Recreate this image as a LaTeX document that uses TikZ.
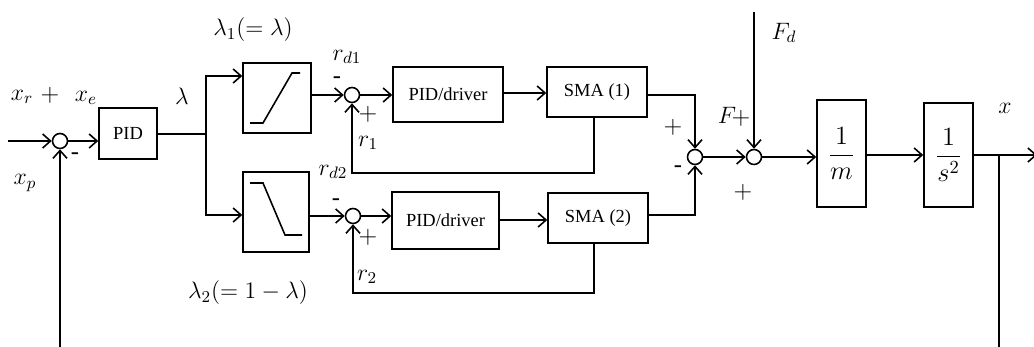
\RequirePackage{fix-cm}
\documentclass[tikz,border=0pt]{standalone}
\usepackage{fontspec}
\setmainfont{Liberation Serif}
\usetikzlibrary{arrows.meta}
\begin{document}
\begin{tikzpicture}[x=0.02cm,y=-0.02cm,
  line width=0.9pt,
  arr/.style={-{Straight Barb[length=4.5pt,width=8pt,line width=0.9pt]}},
  blk/.style={draw,rectangle,inner sep=0pt,font=\fontsize{10.5}{12}\selectfont},
  sumc/.style={draw,circle,minimum size=0.30cm,inner sep=0pt},
  lab/.style={inner sep=0pt,font=\fontsize{13.5}{15}\selectfont},
  sgn/.style={inner sep=0pt,font=\fontsize{14}{16}\selectfont}]
\useasboundingbox (0,0) rectangle (1034,347);
% nodes
\node[sumc] (s1) at (60,141) {};
\node[blk,minimum width=1.16cm,minimum height=1.02cm] (pid) at (128,133.5) {PID};
\coordinate (br) at (206,134);
\node[blk,minimum width=1.36cm,minimum height=1.40cm] (sat1) at (277,98) {};
\node[blk,minimum width=1.32cm,minimum height=1.60cm] (sat2) at (276,212) {};
\node[sumc] (c1) at (352,95) {};
\node[sumc] (c2) at (353,216) {};
\node[blk,minimum width=2.20cm,minimum height=1.10cm] (drv1) at (448,94.5) {PID/driver};
\node[blk,minimum width=2.14cm,minimum height=1.14cm] (drv2) at (445.5,220.5) {PID/driver};
\node[blk,minimum width=2.00cm,minimum height=1.00cm] (sma1) at (597,92) {SMA (1)};
\node[blk,minimum width=2.00cm,minimum height=1.00cm] (sma2) at (598,218) {SMA (2)};
\node[sumc] (c3) at (695,157) {};
\node[sumc] (c4) at (754,157) {};
\node[blk,minimum width=0.98cm,minimum height=2.14cm,font=\fontsize{15}{18}\selectfont] (m) at (841.5,153.5) {$\displaystyle\frac{1}{m}$};
\node[blk,minimum width=0.98cm,minimum height=2.08cm,font=\fontsize{15}{18}\selectfont] (s2) at (948.5,155) {$\displaystyle\frac{1}{s^2}$};
\coordinate (in) at (8,141);
\coordinate (fb1) at (60,347);
\coordinate (fd) at (754,12);
\coordinate (ob) at (999,155);
\coordinate (out) at (1037,155);
\coordinate (fb2) at (999,347);
% saturation curves
\draw ([shift={(-27,25)}]sat1.center) -- ++(13,0) -- ++(29,-50) -- ++(8,0);
\draw ([shift={(-26,-29)}]sat2.center) -- ++(13,0) -- ++(22,52) -- ++(17,0);
% connectors
\draw[arr] (in) -- (s1.west);
\draw[arr] (s1.east) -- (pid.west |- s1);
\draw (pid.east |- br) -- (br);
\draw[arr] (br) |- ([yshift=0.44cm]sat1.west);
\draw[arr] (br) |- ([yshift=-0.06cm]sat2.west);
\draw[arr] (sat1.east |- c1) -- (c1.west);
\draw[arr] (sat2.east |- c2) -- (c2.west);
\draw[arr] (c1.east) -- (drv1.west |- c1);
\draw[arr] (c2.east) -- (drv2.west |- c2);
\draw[arr] (drv1.east |- 0,93) -- (sma1.west |- 0,93);
\draw[arr] (drv2.east |- 0,220) -- (sma2.west |- 0,220);
\draw[arr] (sma1.east |- 0,95) -| (c3.north);
\draw[arr] (sma2.east |- 0,215) -| (c3.south);
\draw[arr] (sma1.south -| 594,0) |- (352,173) -- (c1.south);
\draw[arr] (sma2.south -| 594,0) |- (c2.south |- 0,293) -- (c2.south);
\draw[arr] (c3.east) -- (c4.west);
\draw[arr] (fd) -- (c4.north);
\draw[arr] (c4.east) -- (m.west |- c4);
\draw[arr] (m.east |- s2) -- (s2.west);
\draw (s2.east) -- (ob);
\draw[arr] (ob) -- (out);
\draw (ob) -- (fb2);
\draw[arr] (fb1) -- (s1.south);
% labels
\node[lab] (lxr) at (22,97) {$x_r$};
\node[sgn] (p1) at (50,95) {$+$};
\node[lab] (lxe) at (86,98) {$x_e$};
\node[lab] (lxp) at (25,183) {$x_p$};
\node[sgn] (m1) at (75,156) {-};
\node[lab] (llam) at (182,96) {$\lambda$};
\node[lab] (ll1) at (253,30) {$\lambda_1(=\lambda)$};
\node[lab] (ll2) at (248,293) {$\lambda_2(=1-\lambda)$};
\node[lab] (lrd1) at (347,57) {$r_{d1}$};
\node[sgn] (m2) at (337,80) {-};
\node[sgn] (p2) at (368,114) {$+$};
\node[lab] (lr1) at (368,143) {$r_1$};
\node[lab] (lrd2) at (333,172) {$r_{d2}$};
\node[sgn] (m3) at (336,202) {-};
\node[sgn] (p3) at (368,237) {$+$};
\node[lab] (lr2) at (367,277) {$r_2$};
\node[sgn] (p4) at (673,127) {$+$};
\node[sgn] (m4) at (678,169) {-};
\node[lab] (lF) at (727,115) {$F$};
\node[sgn] (p5) at (741,118) {$+$};
\node[lab] (lFd) at (784,33) {$F_d$};
\node[sgn] (p6) at (743,192) {$+$};
\node[lab] (lx) at (1005,108) {$x$};
\end{tikzpicture}
\end{document}
